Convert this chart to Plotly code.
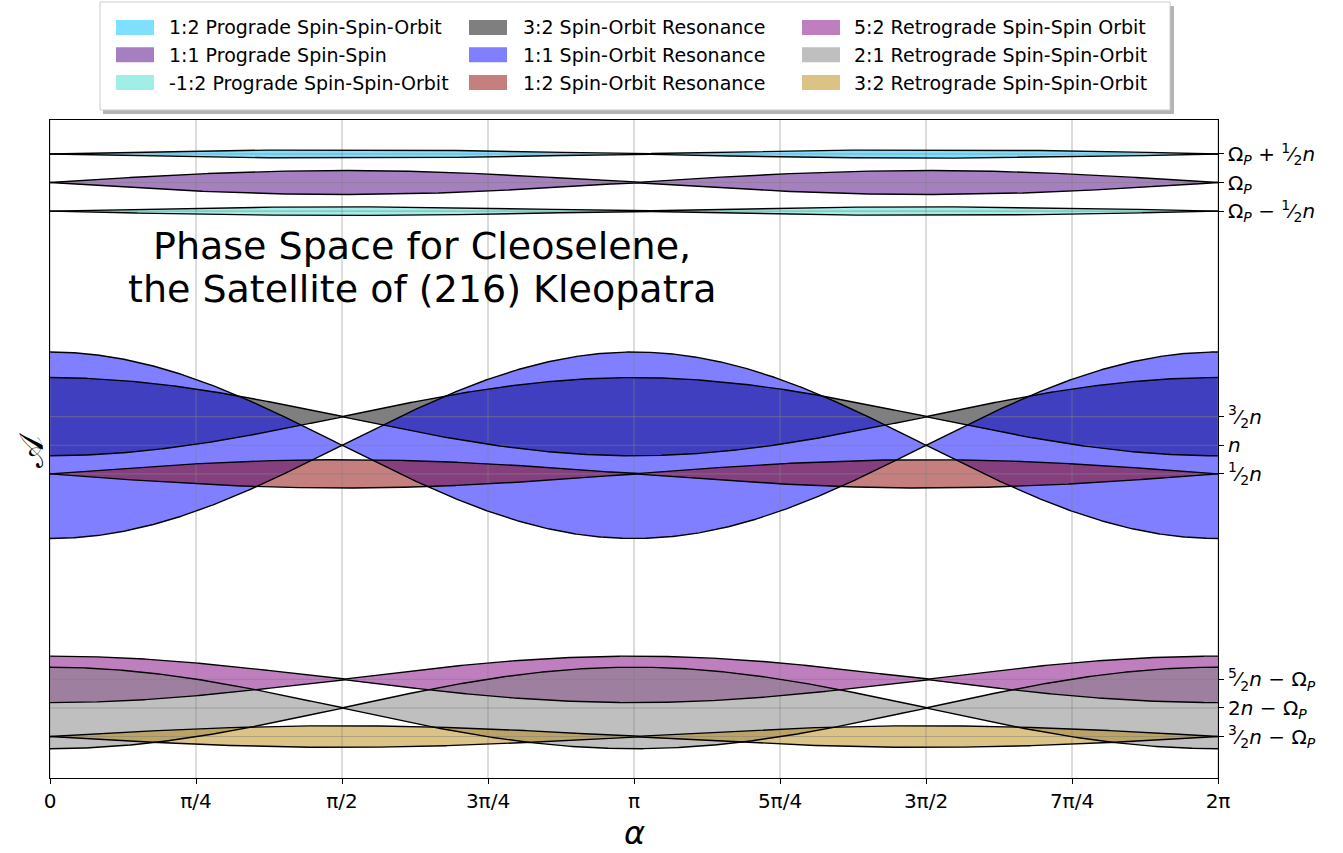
import numpy as np
import plotly.graph_objects as go

# ------------------------------------------------------------------ data
n = 1.0                 # orbital mean motion (unit)
omega_p = 5.595         # primary spin rate in units of n

resonance_names = [
    "1:2 Prograde Spin-Spin-Orbit",
    "1:1 Prograde Spin-Spin",
    "-1:2 Prograde Spin-Spin-Orbit",
    "3:2 Spin-Orbit Resonance",
    "1:1 Spin-Orbit Resonance",
    "1:2 Spin-Orbit Resonance",
    "5:2 Retrograde Spin-Spin Orbit",
    "2:1 Retrograde Spin-Spin-Orbit",
    "3:2 Retrograde Spin-Spin-Orbit",
]
resonance_centers = [
    omega_p + 0.5 * n,
    omega_p,
    omega_p - 0.5 * n,
    1.5 * n,
    n,
    0.5 * n,
    2.5 * n - omega_p,
    2.0 * n - omega_p,
    1.5 * n - omega_p,
]
resonance_half_widths = [0.073, 0.21, 0.075, 0.684, 1.631, 0.248, 0.407, 0.713, 0.189]
# angle (alpha) at which each separatrix lobe is widest
resonance_lobe_alpha = [np.pi / 2, np.pi / 2, np.pi / 2, 0.0, 0.0, np.pi / 2, 0.0, 0.0, np.pi / 2]

xtick_values = [k * np.pi / 4 for k in range(9)]
xtick_labels = ["0", "π/4", "π/2", "3π/4", "π", "5π/4", "3π/2", "7π/4", "2π"]

ytick_values = [
    1.5 * n - omega_p, 2.0 * n - omega_p, 2.5 * n - omega_p,
    0.5 * n, n, 1.5 * n,
    omega_p - 0.5 * n, omega_p, omega_p + 0.5 * n,
]
FR = lambda a, b: f"<sup>{a}</sup>⁄<sub>{b}</sub>"
ytick_labels = [
    f"{FR(3,2)}<i>n</i> − Ω<sub><i>P</i></sub>",
    "2<i>n</i> − Ω<sub><i>P</i></sub>",
    f"{FR(5,2)}<i>n</i> − Ω<sub><i>P</i></sub>",
    f"{FR(1,2)}<i>n</i>",
    "<i>n</i>",
    f"{FR(3,2)}<i>n</i>",
    f"Ω<sub><i>P</i></sub> − {FR(1,2)}<i>n</i>",
    "Ω<sub><i>P</i></sub>",
    f"Ω<sub><i>P</i></sub> + {FR(1,2)}<i>n</i>",
]

# ------------------------------------------------------------------ style
fill_colors = [
    "rgba(0,191,255,0.5)",
    "rgba(75,0,130,0.5)",
    "rgba(64,224,208,0.5)",
    "rgba(0,0,0,0.5)",
    "rgba(0,0,255,0.5)",
    "rgba(139,0,0,0.5)",
    "rgba(128,0,128,0.5)",
    "rgba(128,128,128,0.5)",
    "rgba(184,134,11,0.5)",
]
FONT = "DejaVu Sans"
W, H = 1343, 853
ML, MR, MT, MB = 50, 125, 120, 75
PW, PH = W - ML - MR, H - MT - MB
YR = [-4.82, 6.689]


def px(xp):
    return (xp - ML) / PW


def py(yp):
    return (H - MB - yp) / PH


alpha = np.linspace(0, 2 * np.pi, 1201)

fig = go.Figure()

uppers, lowers = [], []
for c, w, a0, col in zip(resonance_centers, resonance_half_widths, resonance_lobe_alpha, fill_colors):
    env = w * np.abs(np.cos(alpha - a0))
    up, lo = c + env, c - env
    uppers.append(up)
    lowers.append(lo)
    fig.add_trace(go.Scatter(
        x=np.concatenate([alpha, alpha[::-1]]),
        y=np.concatenate([up, lo[::-1]]),
        fill="toself", fillcolor=col, mode="lines", line=dict(width=0),
        hoverinfo="skip", showlegend=False,
    ))

# grid (drawn above the fills, below the edges)
gx, gy = [], []
for xv in xtick_values:
    gx += [xv, xv, None]
    gy += [YR[0], YR[1], None]
for yv in ytick_values:
    gx += [0, 2 * np.pi, None]
    gy += [yv, yv, None]
fig.add_trace(go.Scatter(x=gx, y=gy, mode="lines",
                         line=dict(color="rgba(128,128,128,0.5)", width=1.1),
                         hoverinfo="skip", showlegend=False))

# separatrix edges
for up, lo in zip(uppers, lowers):
    fig.add_trace(go.Scatter(
        x=np.concatenate([alpha, [None], alpha]),
        y=np.concatenate([up, [None], lo]),
        mode="lines", line=dict(color="black", width=1.4),
        hoverinfo="skip", showlegend=False,
    ))

axis_common = dict(showline=True, linecolor="black", linewidth=1.1, mirror=True,
                   ticks="outside", ticklen=5, tickwidth=1.1, tickcolor="black",
                   showgrid=False, zeroline=False,
                   tickfont=dict(family=FONT, size=20, color="black"))
fig.update_xaxes(range=[0, 2 * np.pi], tickvals=xtick_values, ticktext=xtick_labels, **axis_common)
fig.update_yaxes(range=YR, side="right", tickvals=ytick_values, ticktext=ytick_labels, **axis_common)

shapes = []
annotations = []

# legend (manual, matplotlib style)
shapes.append(dict(type="rect", xref="paper", yref="paper",
                   x0=px(103), x1=px(1174), y0=py(114), y1=py(6),
                   fillcolor="#b4b4b4", line=dict(width=0), layer="above"))
shapes.append(dict(type="rect", xref="paper", yref="paper",
                   x0=px(100), x1=px(1170), y0=py(110), y1=py(2),
                   fillcolor="white", line=dict(color="#cccccc", width=1), layer="above"))
col_handle_x = [116, 469, 802]
col_text_x = [168, 521.5, 853]
row_y = [27.5, 54.8, 82.5]
for i, (name, col) in enumerate(zip(resonance_names, fill_colors)):
    ci, ri = i // 3, i % 3
    hx, yc = col_handle_x[ci], row_y[ri]
    shapes.append(dict(type="rect", xref="paper", yref="paper",
                       x0=px(hx), x1=px(hx + 38), y0=py(yc + 7.5), y1=py(yc - 7.5),
                       fillcolor=col, line=dict(width=0), layer="above"))
    annotations.append(dict(xref="paper", yref="paper", x=px(col_text_x[ci] - 1), y=py(yc),
                            xanchor="left", yanchor="middle", showarrow=False, text=name,
                            font=dict(family=FONT, size=19, color="black")))

# in-plot title
annotations.append(dict(xref="paper", yref="paper", x=px(422), y=py(246), xanchor="center",
                        yanchor="middle", showarrow=False, text="Phase Space for Cleoselene,",
                        font=dict(family=FONT, size=38, color="black")))
annotations.append(dict(xref="paper", yref="paper", x=px(422), y=py(289), xanchor="center",
                        yanchor="middle", showarrow=False, text="the Satellite of (216) Kleopatra",
                        font=dict(family=FONT, size=38, color="black")))
# axis labels
annotations.append(dict(xref="paper", yref="paper", x=px(634), y=py(833), xanchor="center",
                        yanchor="middle", showarrow=False, text="<i>α</i>",
                        font=dict(family=FONT, size=32, color="black")))
annotations.append(dict(xref="paper", yref="paper", x=px(31), y=py(450), xanchor="center",
                        yanchor="middle", showarrow=False, text="𝒜", textangle=-90,
                        font=dict(family=FONT, size=34, color="black")))

fig.update_layout(width=W, height=H, margin=dict(l=ML, r=MR, t=MT, b=MB, pad=0),
                  plot_bgcolor="white", paper_bgcolor="white",
                  shapes=shapes, annotations=annotations, showlegend=False,
                  font=dict(family=FONT, color="black"))

fig.write_html("out.html")
